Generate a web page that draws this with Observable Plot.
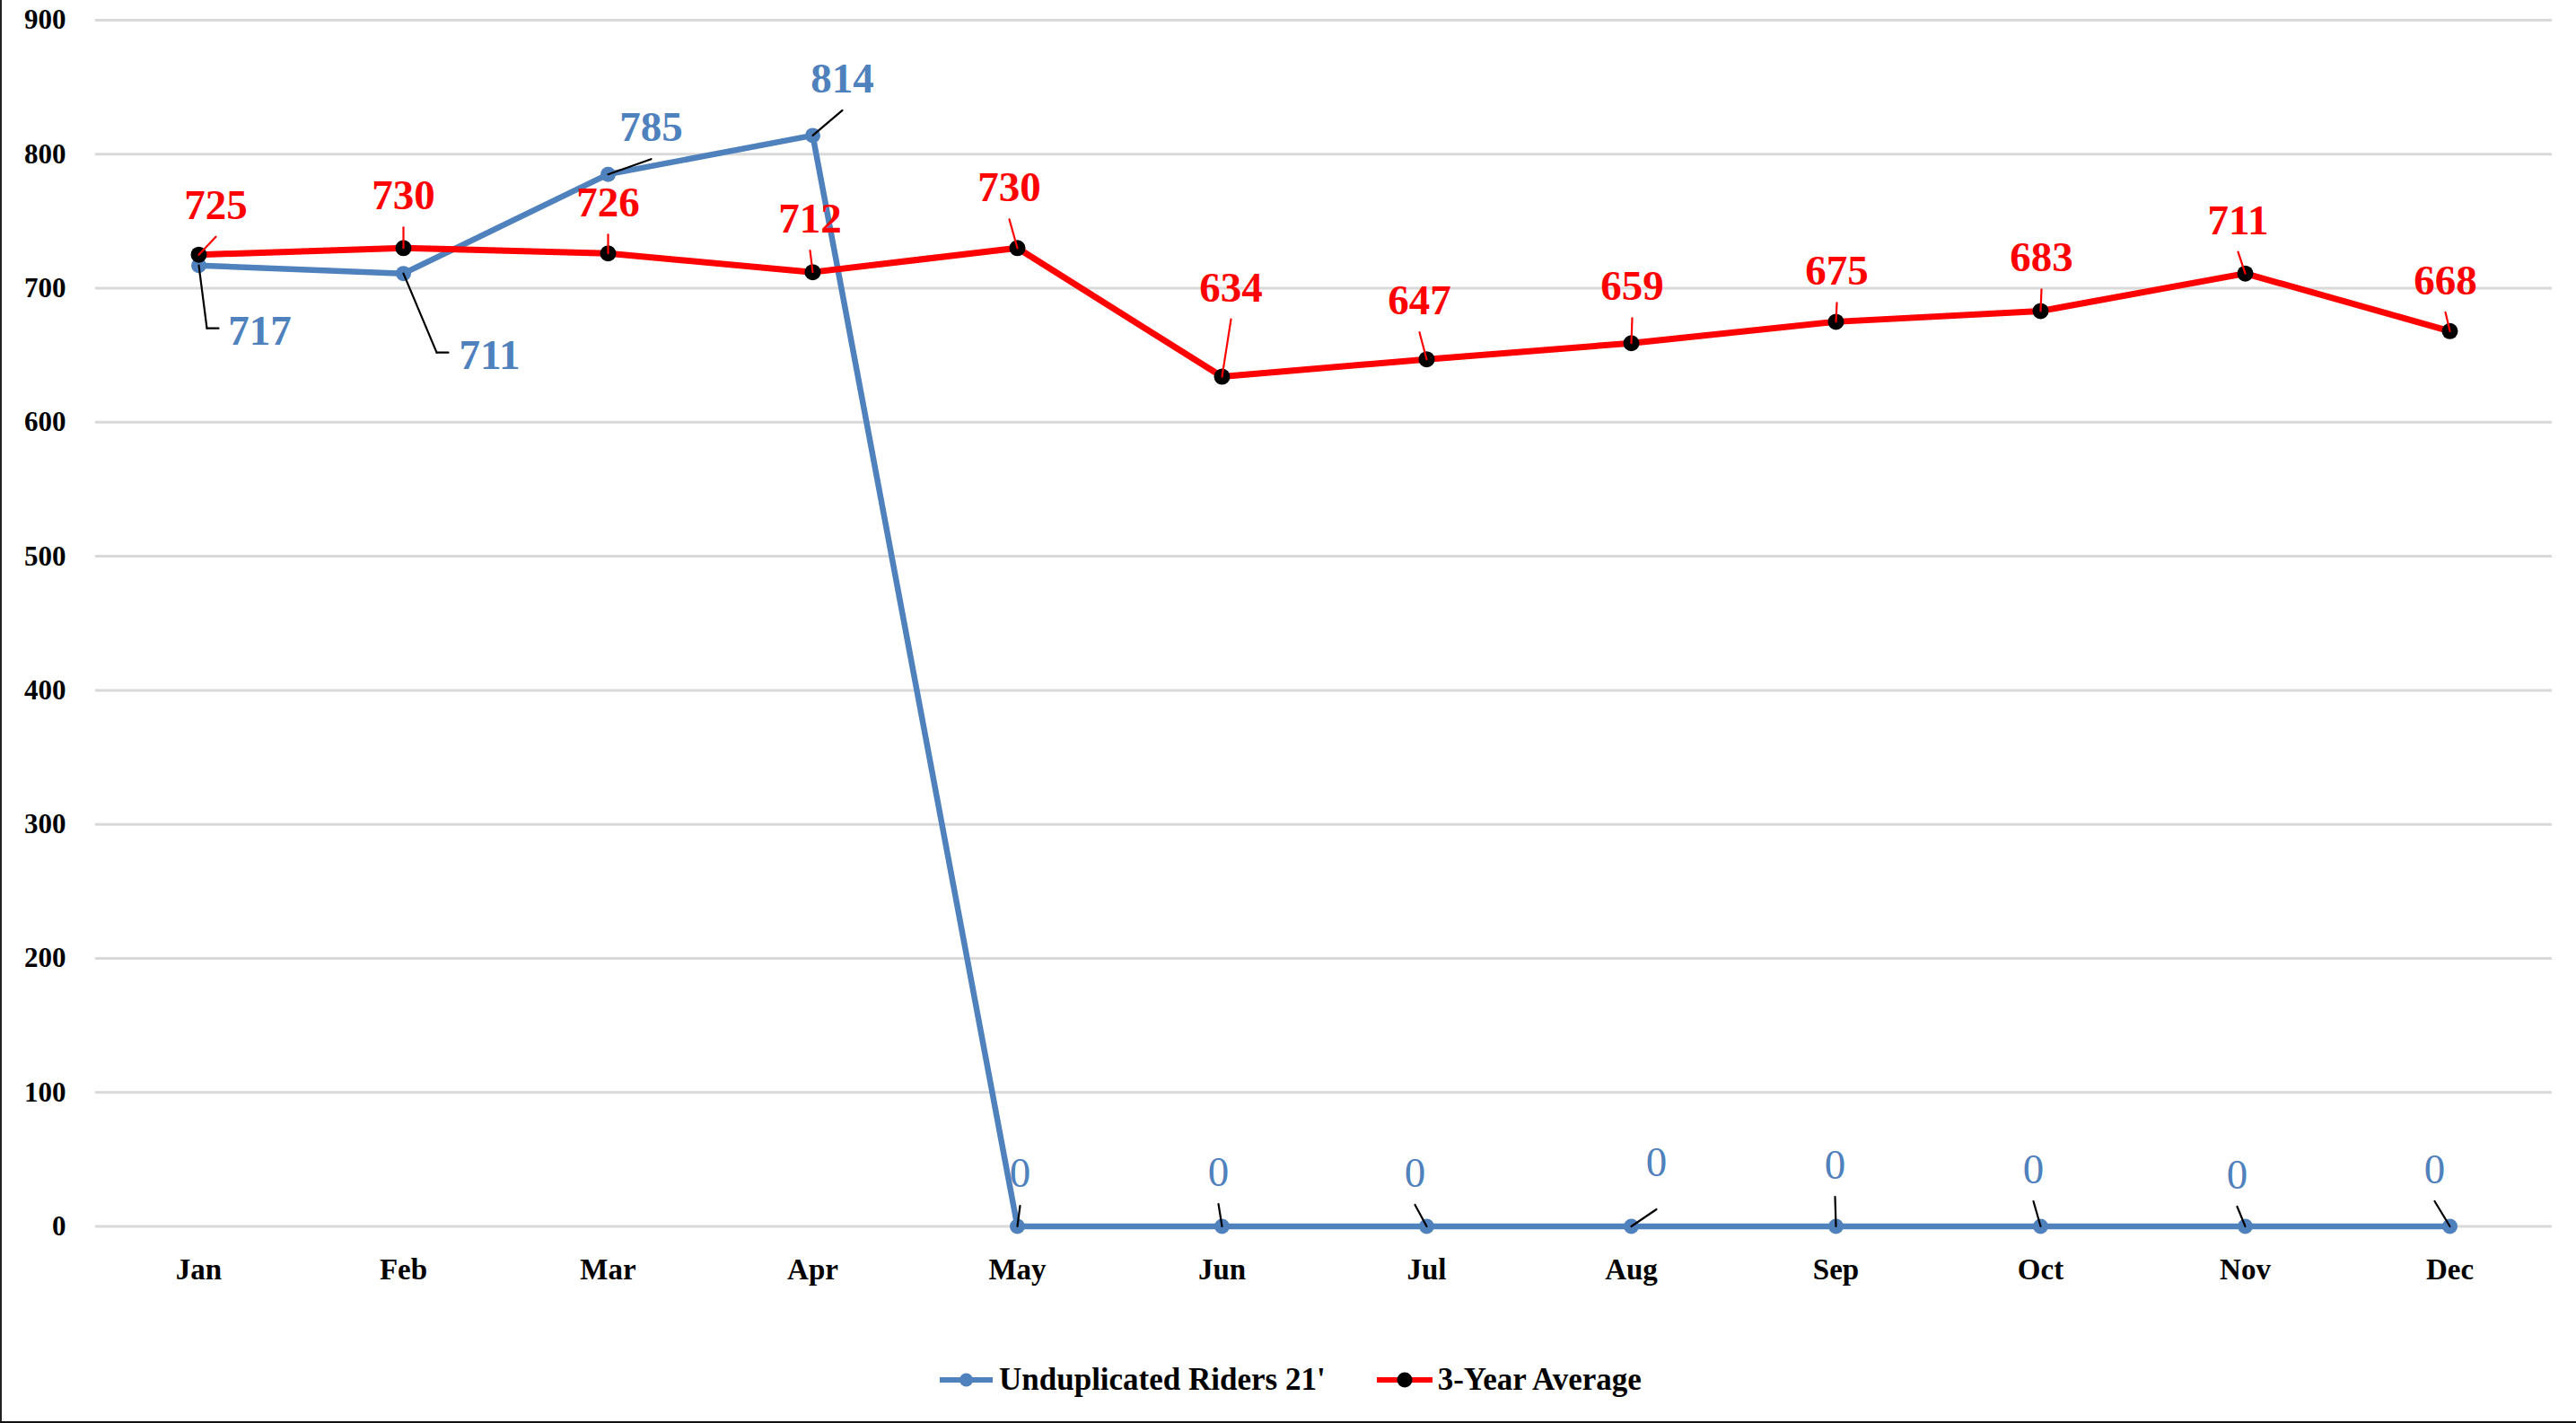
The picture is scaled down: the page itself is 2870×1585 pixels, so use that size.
<!DOCTYPE html>
<html>
<head>
<meta charset="utf-8">
<script src="https://cdn.jsdelivr.net/npm/d3@7"></script>
<script src="https://cdn.jsdelivr.net/npm/@observablehq/plot@0.6"></script>
<style>
  html, body { margin: 0; padding: 0; background: #fff; }
  #wrap { position: relative; width: 2870px; height: 1585px; overflow: hidden; background: #fff;
          font-family: "Liberation Serif", "Times New Roman", serif; font-weight: bold; }
  #chart { position: absolute; left: 0; top: 0; }
  .bl { position: absolute; left: 0; top: 0; width: 2px; height: 1585px; background: #222; }
  .bb { position: absolute; left: 0; top: 1583px; width: 2870px; height: 2px; background: #111; }
  #legend { position: absolute; left: 1047px; top: 1512px; height: 50px; display: flex; align-items: center;
            font-size: 35px; color: #000; white-space: nowrap; }
  #legend .item { display: flex; align-items: center; }
  #legend svg { display: block; }
</style>
</head>
<body>
<div id="wrap">
  <div id="chart"></div>
  <div id="legend"></div>
  <div class="bl"></div>
  <div class="bb"></div>
</div>
<script>
// ---- Data ----
const months = ["Jan","Feb","Mar","Apr","May","Jun","Jul","Aug","Sep","Oct","Nov","Dec"];
const riders21 = [717, 711, 785, 814, 0, 0, 0, 0, 0, 0, 0, 0];
const avg3yr = [725, 730, 726, 712, 730, 634, 647, 659, 675, 683, 711, 668];
const yTicks = [0, 100, 200, 300, 400, 500, 600, 700, 800, 900];
const seriesNames = ["Unduplicated Riders 21'", "3-Year Average"];

// ---- Label placement (pixel offsets of each data label from its point) ----
const ridersLabelDx = [68, 96, 48, 33, 3, -4, -13, 28, -1, -8, -9, -17];
const ridersLabelDy = [73, 91, -52, -63, -59, -60, -59, -71, -68, -63, -57, -63];
const ridersLeaderGap = [0, 0, 35, 35, 36, 35, 35, 52, 35, 35, 35, 35];
const avgLabelDx = [19, 0, 0, -3, -9, 10, -8, 1, 1, 1, -8, -5];
const avgLabelDy = [-55, -58, -56, -59, -67, -99, -65, -63, -56, -59, -59, -56];

const BLUE = "#4F81BD", RED = "#FF0000";
const FONT = "Liberation Serif, Times New Roman, serif";

const rows = months.map((m, i) => ({month: m, riders: riders21[i], avg: avg3yr[i]}));

const seg = {draw(ctx, l) { ctx.moveTo(0, 0); ctx.lineTo(0, -l); }};
function leader(datum, yField, ex, ey, color, extra = {}) {
  const L = Math.hypot(ex, ey);
  const R = Math.atan2(ex, -ey) * 180 / Math.PI;
  return Plot.vector([datum], {x: "month", y: yField, length: L, rotate: R, anchor: "start",
    shape: seg, stroke: color, strokeWidth: 2.2, ...extra});
}

const marks = [];
marks.push(Plot.ruleY(yTicks, {stroke: "#d9d9d9", strokeWidth: 3}));
marks.push(Plot.axisY({ticks: yTicks, tickSize: 0, tickPadding: 33, fontSize: 31, fontWeight: "bold",
  fontFamily: FONT, fill: "#000", label: null}));
marks.push(Plot.axisX({tickSize: 0, tickPadding: 36, fontSize: 33, fontWeight: "bold",
  fontFamily: FONT, fill: "#000", label: null}));
marks.push(Plot.line(rows, {x: "month", y: "riders", stroke: BLUE, strokeWidth: 6.5}));
marks.push(Plot.dot(rows, {x: "month", y: "riders", r: 8.5, fill: BLUE}));
marks.push(Plot.line(rows, {x: "month", y: "avg", stroke: RED, strokeWidth: 7}));
marks.push(Plot.dot(rows, {x: "month", y: "avg", r: 9, fill: "#000"}));

// leader lines
rows.forEach((d, i) => {
  marks.push(leader(d, "avg", avgLabelDx[i], avgLabelDy[i] + 35, RED));
  const ldx = ridersLabelDx[i], ldy = ridersLabelDy[i];
  if (ldy > 0) {
    const exx = ldx - 59, eyy = ldy - 3;
    marks.push(leader(d, "riders", exx, eyy, "#000"));
    marks.push(leader(d, "riders", 13, 0, "#000", {dx: exx, dy: eyy}));
  } else {
    marks.push(leader(d, "riders", ldx, ldy + ridersLeaderGap[i], "#000"));
  }
});

// data labels
rows.forEach((d, i) => {
  marks.push(Plot.text([d], {x: "month", y: "avg", text: dd => String(dd.avg), dx: avgLabelDx[i], dy: avgLabelDy[i],
    fill: RED, fontSize: 47, fontWeight: "bold", fontFamily: FONT}));
  marks.push(Plot.text([d], {x: "month", y: "riders", text: dd => String(dd.riders), dx: ridersLabelDx[i], dy: ridersLabelDy[i],
    fill: BLUE, fontSize: 47, fontWeight: d.riders === 0 ? "normal" : "bold", fontFamily: FONT}));
});

const chart = Plot.plot({
  width: 2870,
  height: 1480,
  marginTop: 22,
  marginBottom: 114.5,
  marginLeft: 106,
  marginRight: 27,
  style: {fontFamily: FONT, background: "transparent", overflow: "visible"},
  x: {type: "point", domain: months, padding: 0.5},
  y: {domain: [0, 900]},
  marks
});
document.getElementById("chart").appendChild(chart);

// legend
const legend = document.getElementById("legend");
function swatch(lineColor, dotColor, w, r) {
  const ns = "http://www.w3.org/2000/svg";
  const s = document.createElementNS(ns, "svg");
  s.setAttribute("width", w); s.setAttribute("height", 24);
  const ln = document.createElementNS(ns, "line");
  ln.setAttribute("x1", 0); ln.setAttribute("x2", w); ln.setAttribute("y1", 12); ln.setAttribute("y2", 12);
  ln.setAttribute("stroke", lineColor); ln.setAttribute("stroke-width", 6);
  const c = document.createElementNS(ns, "circle");
  c.setAttribute("cx", w / 2); c.setAttribute("cy", 12); c.setAttribute("r", r); c.setAttribute("fill", dotColor);
  s.appendChild(ln); s.appendChild(c);
  return s;
}
const items = [
  {name: seriesNames[0], line: BLUE, dot: BLUE, w: 59, r: 7.5, gap: 7, ml: 0},
  {name: seriesNames[1], line: RED, dot: "#000", w: 62, r: 8.5, gap: 6, ml: 57}
];
items.forEach(it => {
  const div = document.createElement("div");
  div.className = "item";
  div.style.marginLeft = it.ml + "px";
  div.appendChild(swatch(it.line, it.dot, it.w, it.r));
  const sp = document.createElement("span");
  sp.textContent = it.name;
  sp.style.marginLeft = it.gap + "px";
  div.appendChild(sp);
  legend.appendChild(div);
});
</script>
</body>
</html>
